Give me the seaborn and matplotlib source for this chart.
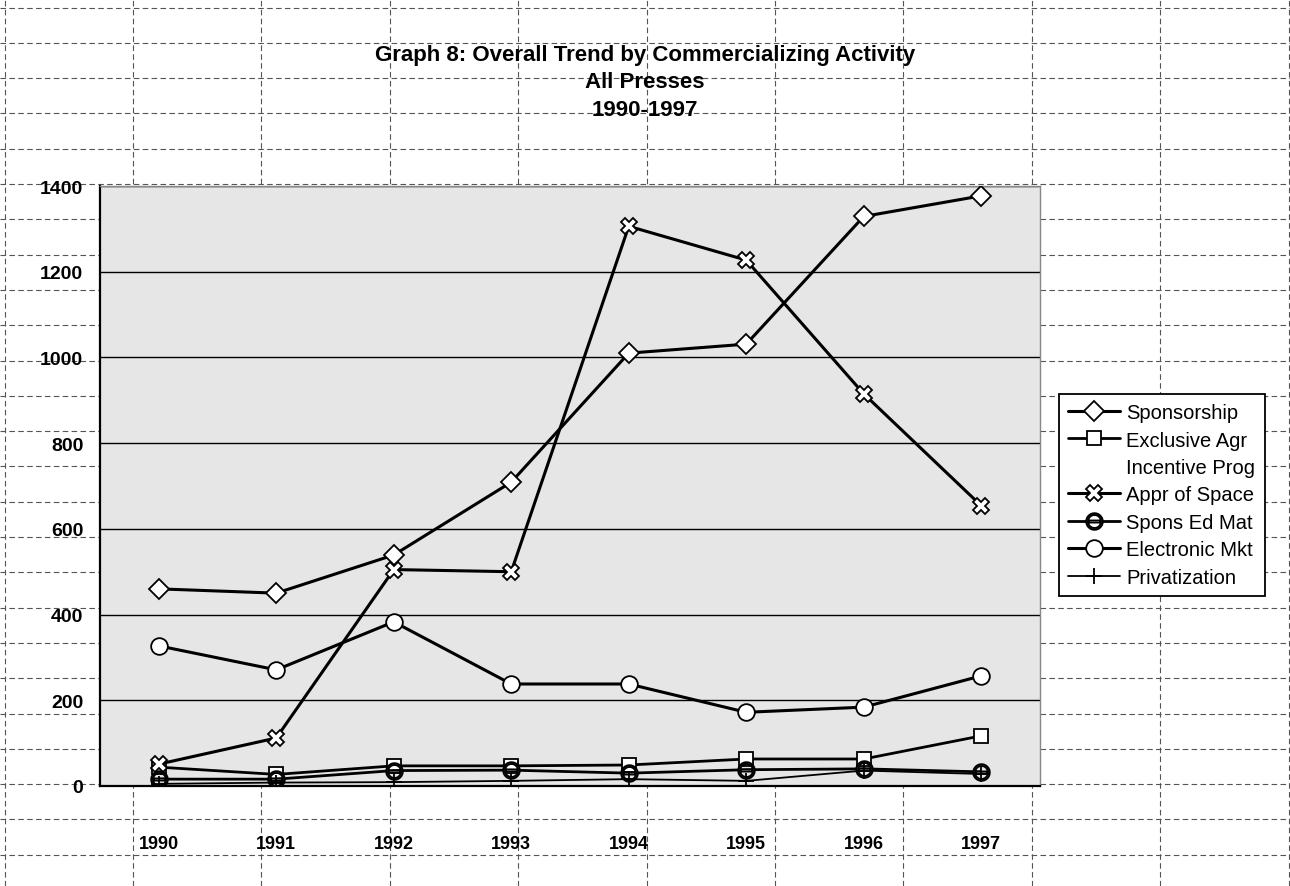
import numpy as np
import pandas as pd
import matplotlib
matplotlib.use("Agg")
import matplotlib.pyplot as plt
from matplotlib.lines import Line2D
import seaborn as sns

# data
years = ["1990", "1991", "1992", "1993", "1994", "1995", "1996", "1997"]
sponsorship = [460, 450, 539, 709, 1010, 1031, 1329, 1377]
exclusive_agr = [44, 27, 47, 47, 49, 63, 63, 117]
incentive_prog = [0, 0, 0, 0, 0, 0, 0, 0]
appr_of_space = [51, 112, 505, 500, 1306, 1227, 915, 654]
spons_ed_mat = [16, 16, 36, 37, 30, 38, 40, 33]
electronic_mkt = [327, 271, 383, 238, 238, 172, 184, 257]
privatization = [5, 8, 9, 12, 16, 12, 36, 28]

series_names = ["Sponsorship", "Exclusive Agr", "Incentive Prog", "Appr of Space",
                "Spons Ed Mat", "Electronic Mkt", "Privatization"]
series_values = [sponsorship, exclusive_agr, incentive_prog, appr_of_space,
                 spons_ed_mat, electronic_mkt, privatization]

rows = []
for name, vals in zip(series_names, series_values):
    for i, v in enumerate(vals):
        rows.append({"series": name, "pos": i, "year": years[i], "value": v})
df = pd.DataFrame(rows)

styles = {
    "Sponsorship":    dict(marker="D", markersize=10, lw=2.2),
    "Exclusive Agr":  dict(marker="s", markersize=10, lw=2.0),
    "Incentive Prog": dict(marker="None", markersize=0, lw=0, linestyle="None"),
    "Appr of Space":  dict(marker="X", markersize=12, lw=2.2),
    "Spons Ed Mat":   dict(marker=r"$\ominus$", markersize=12, lw=2.0),
    "Electronic Mkt": dict(marker="o", markersize=12, lw=2.2),
    "Privatization":  dict(marker="+", markersize=12, lw=1.3),
}

sns.set_style("white")
plt.rcParams["font.family"] = ["Liberation Sans", "DejaVu Sans"]
plt.rcParams["text.color"] = "black"
plt.rcParams["xtick.color"] = "black"
plt.rcParams["ytick.color"] = "black"

W, H = 1290, 887
fig = plt.figure(figsize=(W / 100, H / 100), dpi=100)
fig.patch.set_facecolor("white")

# spreadsheet cell grid behind the chart
for k in range(11):
    x = (4.5 + 128.4 * k) / W
    fig.add_artist(Line2D([x, x], [0, 1], transform=fig.transFigure, color="#555555",
                          lw=0.8, linestyle=(0, (5, 3)), zorder=-5))
for k in range(-5, 20):
    y = 1 - (185 + 35.3 * k) / H
    fig.add_artist(Line2D([0, 1], [y, y], transform=fig.transFigure, color="#555555",
                          lw=0.8, linestyle=(0, (5, 3)), zorder=-5))

ax = fig.add_axes([100 / W, 1 - 787 / H, 940 / W, 600 / H])
ax.set_facecolor("#e6e6e6")

for name in series_names:
    sub = df[df["series"] == name]
    st = dict(styles[name])
    sns.lineplot(data=sub, x="pos", y="value", ax=ax, color="black",
                 markerfacecolor="white", markeredgecolor="black", markeredgewidth=1.3,
                 label=name, zorder=3, **st)

ax.set_xlim(-0.5, len(years) - 0.5)
ax.set_ylim(0, 1400)
ax.set_yticks(np.arange(0, 1401, 200))
ax.yaxis.grid(True, color="black", lw=1.0)
ax.set_axisbelow(True)

ax.set_xticks(np.arange(len(years)))
ax.set_xticklabels(years, fontweight="bold")
ax.set_xticks(np.arange(len(years) + 1) - 0.5, minor=True)
for lab in ax.get_yticklabels():
    lab.set_fontweight("bold")
ax.tick_params(axis="x", which="major", length=0, pad=35, labelsize=13)
ax.tick_params(axis="x", which="minor", length=8, width=1, direction="out", color="black")
ax.tick_params(axis="y", length=6, width=1, direction="out", color="black", labelsize=14, pad=6)
ax.set_xlabel("")
ax.set_ylabel("")

for side in ["left", "bottom"]:
    ax.spines[side].set_color("black")
    ax.spines[side].set_linewidth(1.6)
for side in ["top", "right"]:
    ax.spines[side].set_color("#888888")
    ax.spines[side].set_linewidth(1.0)

fig.text(645 / W, 1 - 55 / H, "Graph 8: Overall Trend by Commercializing Activity",
         ha="center", va="center", fontsize=16, fontweight="bold")
fig.text(645 / W, 1 - 83 / H, "All Presses", ha="center", va="center",
         fontsize=16, fontweight="bold")
fig.text(645 / W, 1 - 110 / H, "1990-1997", ha="center", va="center",
         fontsize=16, fontweight="bold")

leg = ax.legend(loc="upper left", bbox_to_anchor=(1059 / W, 1 - 395 / H),
                bbox_transform=fig.transFigure, frameon=True, fancybox=False,
                edgecolor="black", framealpha=1, fontsize=14.5, handlelength=2.6,
                handletextpad=0.3, labelspacing=0.42, borderpad=0.45, borderaxespad=0)
leg.get_frame().set_linewidth(1.3)

fig.savefig("out.png", dpi=100)
